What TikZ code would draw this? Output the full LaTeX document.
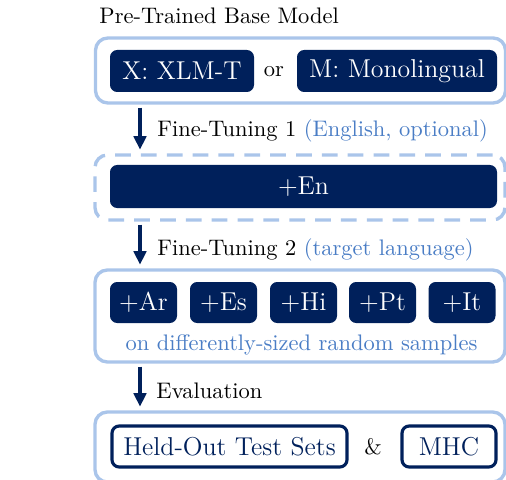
\documentclass[tikz,border=0pt]{standalone}
\usetikzlibrary{arrows.meta}
\definecolor{navy}{RGB}{0,32,91}
\definecolor{paleblue}{RGB}{170,197,234}
\definecolor{midblue}{RGB}{74,125,197}
\newcommand{\pxu}{0.445pt}
\newcommand{\boxfont}{\fontsize{11.5}{14}\selectfont}

\begin{document}
\begin{tikzpicture}[x=\pxu, y=-\pxu,
  stage/.style={draw=paleblue, line width=1.5pt, rounded corners=5.5pt, minimum width=410*\pxu, inner sep=0pt},
  model/.style={fill=navy, text=white, rounded corners=3.2pt, minimum height=42*\pxu, inner sep=0pt, font=\boxfont},
  testset/.style={draw=navy, line width=1.4pt, text=navy, rounded corners=3.2pt, minimum height=41*\pxu, inner sep=0pt, font=\boxfont},
  flow/.style={-{Triangle[length=6pt,width=5.5pt]}, draw=navy, line width=1.4pt, shorten <=1.3pt, shorten >=1.6pt},
  note/.style={text=midblue}]
\useasboundingbox (0,0) rectangle (506,479);

% stages
\node[stage, minimum height=65*\pxu] (base) at (300.5,70.5) {};
\node[stage, dashed, dash pattern=on 7pt off 4.5pt, minimum height=65*\pxu] (ft1) at (300,187.5) {};
\node[stage, minimum height=92*\pxu] (ft2) at (300,316) {};
\node[stage, minimum height=70*\pxu] (evalbox) at (300,447) {};

% base models
\node[model, minimum width=144*\pxu] (xlmt) at (182,71) {X: XLM-T};
\node (orword) at (274,72) {or};
\node[model, minimum width=200*\pxu] (mono) at (397,71) {M: Monolingual};

% fine-tuning
\node[model, minimum width=387*\pxu, minimum height=43*\pxu] (en) at (303.5,186.5) {+En};
\foreach \lang/\cx in {Ar/143.5, Es/223.5, Hi/303.5, Pt/382.5, It/462}
  \node[model, minimum width=67*\pxu, minimum height=41*\pxu] (\lang) at (\cx,302.5) {+\lang};
\node[note] (samples) at (301.5,345) {on differently-sized random samples};

% evaluation
\node[testset, minimum width=235*\pxu] (heldout) at (229.5,446.5) {Held-Out Test Sets};
\node (amp) at (373,447) {\&};
\node[testset, minimum width=94*\pxu] (mhc) at (449,446.5) {MHC};

% labels
\node[anchor=base west, inner sep=0pt] (title) at (99,24) {Pre-Trained Base Model};
\node[anchor=base west, inner sep=0pt] (ftlab1) at (157,137) {Fine-Tuning 1 \textcolor{midblue}{(English, optional)}};
\node[anchor=base west, inner sep=0pt] (ftlab2) at (157,255) {Fine-Tuning 2 \textcolor{midblue}{(target language)}};
\node[anchor=base west, inner sep=0pt] (evallab) at (156,398) {Evaluation};

% arrows
\coordinate (spine) at (140,0);
\draw[flow] (base.south -| spine) -- (ft1.north -| spine);
\draw[flow] (ft1.south -| spine) -- (ft2.north -| spine);
\draw[flow] (ft2.south -| spine) -- (evalbox.north -| spine);
\end{tikzpicture}
\end{document}
